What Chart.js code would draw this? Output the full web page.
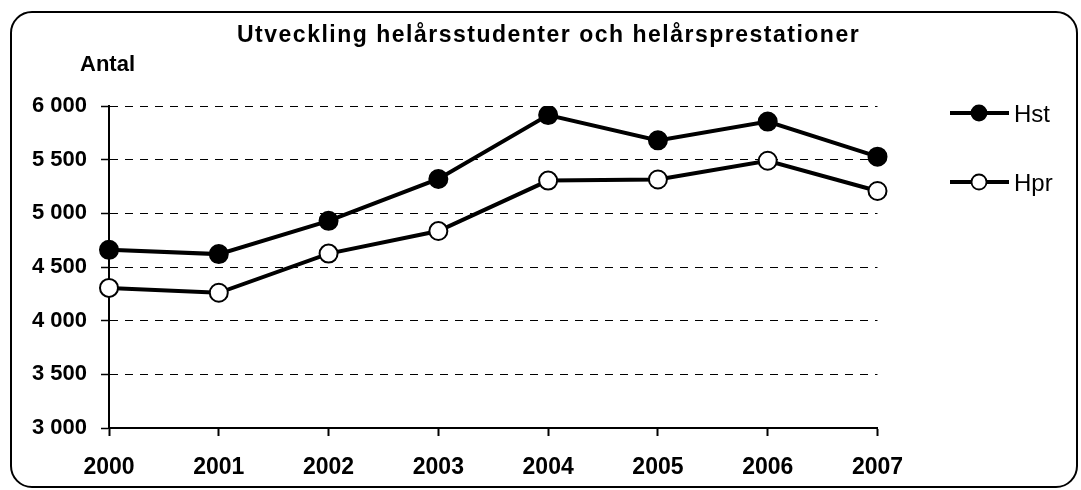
<!DOCTYPE html>
<html>
<head>
<meta charset="utf-8">
<script src="https://cdn.jsdelivr.net/npm/chart.js@4"></script>
<style>
  html, body { margin: 0; padding: 0; background: #fff; }
  #wrap { position: relative; width: 1081px; height: 490px; }
  #frame {
    position: absolute; left: 10px; top: 11px; width: 1068px; height: 477px;
    border: 2px solid #000; border-radius: 22px; box-sizing: border-box; pointer-events: none;
  }
  canvas { position: absolute; left: 0; top: 0; }
</style>
</head>
<body>
<div id="wrap">
  <canvas id="chart" width="1081" height="490"></canvas>
  <div id="frame"></div>
</div>
<script>
// Data
const years = ['2000', '2001', '2002', '2003', '2004', '2005', '2006', '2007'];
const hstValues = [4660, 4620, 4930, 5320, 5915, 5680, 5855, 5528];
const hprValues = [4305, 4260, 4625, 4835, 5305, 5315, 5490, 5208];
const yTicks = { min: 3000, max: 6000, step: 500 };

const FONT = 'Arial, "Liberation Sans", sans-serif';

// Format 6000 as "6 000"
function formatThousands(v) {
  return String(v).replace(/\B(?=(\d{3})+(?!\d))/g, ' ');
}

// Title, axis caption and legend drawn on top of the chart
const decorations = {
  id: 'decorations',
  afterDraw(chart) {
    const ctx = chart.ctx;
    ctx.save();
    ctx.fillStyle = '#000';

    // Title
    ctx.font = 'bold 23px ' + FONT;
    ctx.textAlign = 'left';
    ctx.textBaseline = 'alphabetic';
    ctx.letterSpacing = '1.5px';
    ctx.fillText('Utveckling helårsstudenter och helårsprestationer', 237, 42);
    ctx.letterSpacing = '0px';

    // Y axis caption
    ctx.font = 'bold 22px ' + FONT;
    ctx.fillText('Antal', 80, 71);

    // Legend
    const rows = [113, 182];
    chart.data.datasets.forEach((ds, i) => {
      const y = rows[i];
      ctx.strokeStyle = ds.borderColor;
      ctx.lineWidth = ds.borderWidth;
      ctx.beginPath();
      ctx.moveTo(950, y);
      ctx.lineTo(1009, y);
      ctx.stroke();

      ctx.beginPath();
      ctx.arc(979, y, 7.5, 0, Math.PI * 2);
      ctx.fillStyle = ds.pointBackgroundColor;
      ctx.fill();
      ctx.lineWidth = 1.8;
      ctx.strokeStyle = ds.pointBorderColor;
      ctx.stroke();

      ctx.fillStyle = '#000';
      ctx.font = '24px ' + FONT;
      ctx.textBaseline = 'alphabetic';
      ctx.fillText(ds.label, 1014, y + 8.5);
    });
    ctx.restore();
  }
};

const ctx = document.getElementById('chart').getContext('2d');

new Chart(ctx, {
  type: 'line',
  data: {
    labels: years,
    datasets: [
      {
        label: 'Hst',
        data: hstValues,
        borderColor: '#000',
        borderWidth: 4,
        pointRadius: 9,
        pointBorderWidth: 2,
        pointBackgroundColor: '#000',
        pointBorderColor: '#000',
        tension: 0
      },
      {
        label: 'Hpr',
        data: hprValues,
        borderColor: '#000',
        borderWidth: 4,
        pointRadius: 9,
        pointBorderWidth: 2,
        pointBackgroundColor: '#fff',
        pointBorderColor: '#000',
        tension: 0
      }
    ]
  },
  options: {
    responsive: false,
    animation: false,
    devicePixelRatio: 1,
    layout: {
      padding: { left: 0, right: 203.5, top: 106, bottom: 0 }
    },
    plugins: {
      legend: { display: false },
      title: { display: false },
      tooltip: { enabled: false }
    },
    scales: {
      x: {
        offset: false,
        afterFit(scale) { scale.height = 62; },
        grid: {
          drawOnChartArea: false,
          drawTicks: true,
          tickLength: 8,
          tickColor: '#000',
          tickWidth: 2
        },
        border: { display: true, color: '#000', width: 2 },
        ticks: {
          color: '#000',
          padding: 18,
          maxRotation: 0,
          font: { family: FONT, size: 23, weight: 'bold' }
        }
      },
      y: {
        min: yTicks.min,
        max: yTicks.max,
        afterFit(scale) { scale.width = 109; },
        grid: {
          color: '#000',
          lineWidth: 1,
          drawTicks: true,
          tickLength: 8,
          tickColor: '#000',
          tickWidth: 1.5,
          tickBorderDash: []
        },
        border: { display: true, color: '#000', width: 2, dash: [8, 7] },
        ticks: {
          stepSize: yTicks.step,
          color: '#000',
          padding: 14,
          font: { family: FONT, size: 22, weight: 'bold' },
          callback: value => formatThousands(value)
        }
      }
    }
  },
  plugins: [decorations]
});
</script>
</body>
</html>
